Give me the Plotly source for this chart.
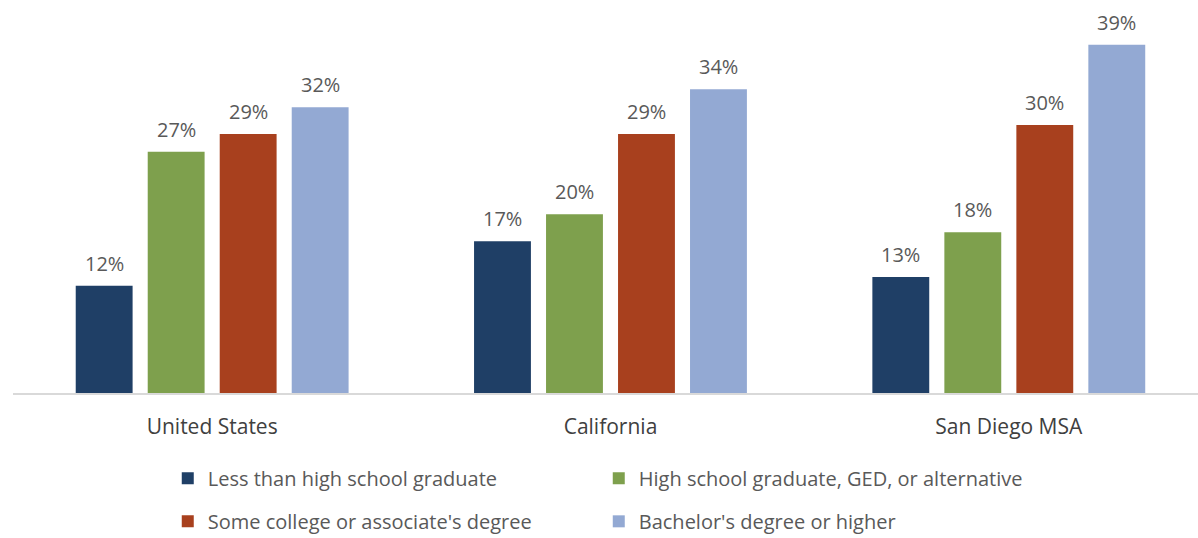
import plotly.graph_objects as go

regions = ["United States", "California", "San Diego MSA"]
series_names = [
    "Less than high school graduate",
    "High school graduate, GED, or alternative",
    "Some college or associate's degree",
    "Bachelor's degree or higher",
]
less_than_hs = [12, 17, 13]
hs_graduate = [27, 20, 18]
some_college = [29, 29, 30]
bachelors_plus = [32, 34, 39]

series_values = [less_than_hs, hs_graduate, some_college, bachelors_plus]
colors = ["#1F3F66", "#7EA04D", "#A8401E", "#93A9D3"]
legend_ids = ["legend", "legend", "legend2", "legend2"]

FONT = "Open Sans"
BARGAP = 0.277
GROUPGAP = 0.21

fig = go.Figure()
for name, vals, col, lg in zip(series_names, series_values, colors, legend_ids):
    fig.add_trace(go.Bar(
        name=name, x=regions, y=vals, marker=dict(color=col, line=dict(width=0)),
        legend=lg,
    ))

# value labels above each bar
n = len(series_values)
slot = (1 - BARGAP) / n
for k, vals in enumerate(series_values):
    for i, v in enumerate(vals):
        xc = i - (1 - BARGAP) / 2 + slot * (k + 0.5)
        fig.add_annotation(
            x=xc, y=v, xref="x", yref="y", text=f"{v}%", showarrow=False,
            yanchor="bottom", yshift=7,
            font=dict(family=FONT, size=20, color="#595959"),
        )

legend_common = dict(
    orientation="h", xanchor="left", yanchor="middle", yref="container",
    entrywidth=386, entrywidthmode="pixels",
    font=dict(family=FONT, size=20, color="#595959"),
    bgcolor="rgba(0,0,0,0)", traceorder="normal",
)

fig.update_layout(
    width=1198, height=538,
    margin=dict(l=13, r=0, t=0, b=145),
    paper_bgcolor="white", plot_bgcolor="white",
    barmode="group", bargap=BARGAP, bargroupgap=GROUPGAP,
    showlegend=True,
    legend=dict(x=0.1306, y=0.111, **legend_common),
    legend2=dict(x=0.1306, y=0.031, **legend_common),
    xaxis=dict(
        type="category", range=[-0.5, 2.475],
        showline=True, linecolor="#D9D9D9", linewidth=1.5,
        ticks="", showgrid=False, ticklabelstandoff=14,
        tickfont=dict(family=FONT, size=21, color="#404040"),
    ),
    yaxis=dict(range=[0, 44], visible=False, showgrid=False, zeroline=False),
)

fig.write_html("out.html")
